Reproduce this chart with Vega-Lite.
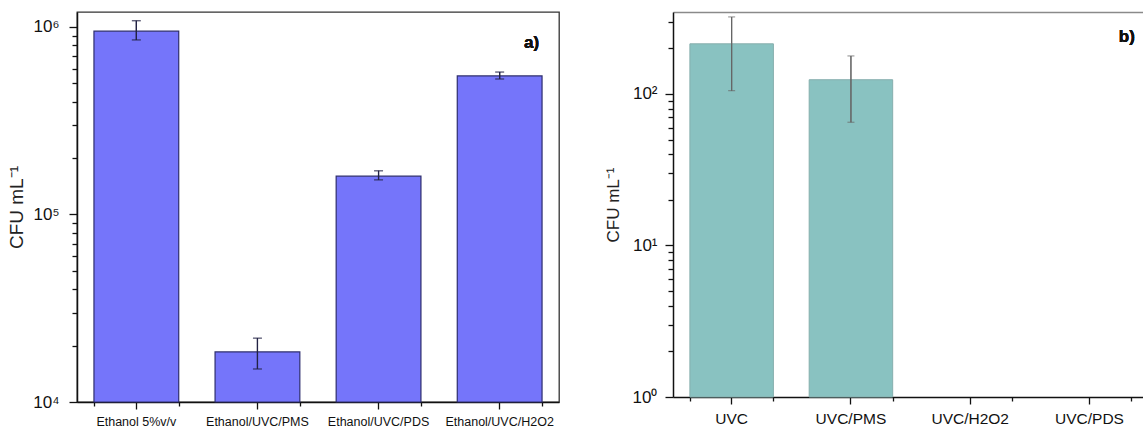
{
  "$schema": "https://vega.github.io/schema/vega-lite/v6.json",
  "padding": {"left": 7, "top": 11, "right": 0, "bottom": 0},
  "spacing": 44,
  "background": "white",
  "config": {
    "font": "Liberation Sans",
    "view": {"stroke": "#333333", "strokeWidth": 1.3},
    "axis": {"grid": false, "domainColor": "#111111", "domainWidth": 1.5, "tickColor": "#111111", "tickWidth": 1.3, "labelColor": "#111111", "titleColor": "#222222", "titleFontWeight": "normal", "labelFont": "Liberation Sans", "titleFont": "Liberation Sans"}
  },
  "hconcat": [
    {
      "width": 482,
      "height": 390,
      "data": {"values": [
        {"treatment": "Ethanol 5%v/v", "cfu": 950000, "lo": 853000, "hi": 1080000},
        {"treatment": "Ethanol/UVC/PMS", "cfu": 18500, "lo": 15000, "hi": 21900},
        {"treatment": "Ethanol/UVC/PDS", "cfu": 160000, "lo": 153000, "hi": 171000},
        {"treatment": "Ethanol/UVC/H2O2", "cfu": 548000, "lo": 528000, "hi": 575000}
      ]},
      "layer": [
        {
          "layer": [
            {
              "mark": {"type": "bar", "color": "#7575FA", "stroke": "#2E2E6E", "strokeWidth": 1.2},
              "encoding": {
                "x": {"field": "treatment", "type": "nominal", "sort": null,
                  "scale": {"domain": ["Ethanol 5%v/v", "Ethanol/UVC/PMS", "Ethanol/UVC/PDS", "Ethanol/UVC/H2O2"], "paddingInner": 0.3, "paddingOuter": 0.14, "align": 0.5},
                  "axis": {"orient": "bottom", "title": null, "labelAngle": 0, "labelFontSize": 12.5, "tickSize": 7, "labelPadding": 6, "labelOverlap": false, "labelLimit": 0}},
                "y": {"field": "cfu", "type": "quantitative",
                  "scale": {"type": "log", "domain": [10000, 1202000], "nice": false},
                  "axis": {"orient": "left", "title": "CFU mL⁻¹", "titleFontSize": 19, "titlePadding": 6,
                    "values": [10000, 20000, 30000, 40000, 50000, 60000, 70000, 80000, 90000, 100000, 200000, 300000, 400000, 500000, 600000, 700000, 800000, 900000, 1000000],
                    "labelExpr": "datum.value == 10000 ? '10⁴' : datum.value == 100000 ? '10⁵' : datum.value == 1000000 ? '10⁶' : ''",
                    "labelOverlap": false, "labelFontSize": 17, "labelPadding": 10,
                    "tickSize": {"condition": {"test": "datum.value == 10000 || datum.value == 100000 || datum.value == 1000000", "value": 8}, "value": 5}}},
                "y2": {"datum": 10000}
              }
            },
            {
              "mark": {"type": "rule", "color": "#222244", "strokeWidth": 1.2},
              "encoding": {
                "x": {"field": "treatment", "type": "nominal", "sort": null},
                "y": {"field": "lo", "type": "quantitative"},
                "y2": {"field": "hi"}
              }
            },
            {
              "mark": {"type": "tick", "color": "#222244", "thickness": 1.4, "size": 9},
              "encoding": {
                "x": {"field": "treatment", "type": "nominal", "sort": null},
                "y": {"field": "lo", "type": "quantitative"}
              }
            },
            {
              "mark": {"type": "tick", "color": "#222244", "thickness": 1.4, "size": 9},
              "encoding": {
                "x": {"field": "treatment", "type": "nominal", "sort": null},
                "y": {"field": "hi", "type": "quantitative"}
              }
            },
            {
              "mark": {"type": "text", "text": "a)", "fontSize": 17, "fontWeight": "bold", "align": "right", "baseline": "middle", "dx": 39.5, "color": "#111111"},
              "encoding": {
                "x": {"datum": "Ethanol/UVC/H2O2", "type": "nominal"},
                "y": {"datum": 820000, "type": "quantitative"}
              }
            }
          ]
        },
        {
          "mark": {"type": "rule", "color": "#222244", "strokeWidth": 1.2},
          "encoding": {
            "x": {"field": "treatment", "type": "nominal", "sort": null,
              "scale": {"domain": ["Ethanol 5%v/v", "Ethanol/UVC/PMS", "Ethanol/UVC/PDS", "Ethanol/UVC/H2O2"], "paddingInner": 0.3, "paddingOuter": 0.14, "align": 0.5},
              "axis": {"orient": "top", "offset": -390, "title": null, "labels": false, "domain": true, "domainOpacity": 0, "ticks": true, "tickBand": "extent", "tickSize": -4}},
            "y": {"field": "lo", "type": "quantitative",
              "scale": {"type": "log", "domain": [10000, 1202000], "nice": false}, "axis": null},
            "y2": {"field": "hi"}
          }
        }
      ],
      "resolve": {"scale": {"x": "independent", "y": "independent"}, "axis": {"x": "independent", "y": "independent"}}
    },
    {
      "width": 470,
      "height": 385,
      "view": {"stroke": null},
      "data": {"values": [
        {"treatment": "UVC", "cfu": 214, "lo": 105, "hi": 322},
        {"treatment": "UVC/PMS", "cfu": 124, "lo": 65, "hi": 178},
        {"treatment": "UVC/H2O2", "cfu": null, "lo": null, "hi": null},
        {"treatment": "UVC/PDS", "cfu": null, "lo": null, "hi": null}
      ]},
      "layer": [
        {
          "layer": [
            {
              "mark": {"type": "bar", "color": "#89C2C1", "stroke": "#86AEAD", "strokeWidth": 1},
              "encoding": {
                "x": {"field": "treatment", "type": "nominal", "sort": null,
                  "scale": {"domain": ["UVC", "UVC/PMS", "UVC/H2O2", "UVC/PDS"], "paddingInner": 0.3, "paddingOuter": 0.12, "align": 0.59},
                  "axis": {"orient": "bottom", "title": null, "labelAngle": 0, "labelFontSize": 15.5, "tickSize": 7, "labelPadding": 7, "labelOverlap": false, "labelLimit": 0}},
                "y": {"field": "cfu", "type": "quantitative",
                  "scale": {"type": "log", "domain": [1, 347], "nice": false},
                  "axis": {"orient": "left", "title": "CFU mL⁻¹", "titleFontSize": 17, "titlePadding": 10,
                    "values": [1, 2, 3, 4, 5, 6, 7, 8, 9, 10, 20, 30, 40, 50, 60, 70, 80, 90, 100, 200, 300],
                    "labelExpr": "datum.value == 1 ? '10⁰' : datum.value == 10 ? '10¹' : datum.value == 100 ? '10²' : ''",
                    "labelOverlap": false, "labelFontSize": 17, "labelPadding": 8,
                    "tickSize": {"condition": {"test": "datum.value == 1 || datum.value == 10 || datum.value == 100", "value": 8}, "value": 5}}},
                "y2": {"datum": 1}
              }
            },
            {
              "mark": {"type": "rule", "color": "#666666", "strokeWidth": 1.1},
              "encoding": {
                "x": {"field": "treatment", "type": "nominal", "sort": null},
                "y": {"field": "lo", "type": "quantitative"},
                "y2": {"field": "hi"}
              }
            },
            {
              "mark": {"type": "tick", "color": "#666666", "thickness": 1.1, "size": 7},
              "encoding": {
                "x": {"field": "treatment", "type": "nominal", "sort": null},
                "y": {"field": "lo", "type": "quantitative"}
              }
            },
            {
              "mark": {"type": "tick", "color": "#666666", "thickness": 1.1, "size": 7},
              "encoding": {
                "x": {"field": "treatment", "type": "nominal", "sort": null},
                "y": {"field": "hi", "type": "quantitative"}
              }
            }
          ]
        },
        {
          "mark": {"type": "rule", "color": "#666666", "strokeWidth": 1.1},
          "encoding": {
            "x": {"field": "treatment", "type": "nominal", "sort": null,
              "scale": {"domain": ["UVC", "UVC/PMS", "UVC/H2O2", "UVC/PDS"], "paddingInner": 0.3, "paddingOuter": 0.12, "align": 0.59},
              "axis": {"orient": "top", "offset": -385, "title": null, "labels": false, "domain": true, "domainOpacity": 0, "ticks": true, "tickBand": "extent", "tickSize": -4}},
            "y": {"field": "lo", "type": "quantitative",
              "scale": {"type": "log", "domain": [1, 347], "nice": false}, "axis": null},
            "y2": {"field": "hi"}
          }
        },
        {
          "mark": {"type": "text", "text": "b)", "fontSize": 17, "fontWeight": "bold", "align": "right", "baseline": "middle", "dx": 40, "color": "#111111"},
          "encoding": {
            "x": {"datum": "UVC/PDS", "type": "nominal",
              "scale": {"domain": ["UVC", "UVC/PMS", "UVC/H2O2", "UVC/PDS"], "paddingInner": 0.3, "paddingOuter": 0.12, "align": 0.59},
              "axis": {"orient": "top", "title": null, "labels": false, "ticks": false, "domain": true, "domainColor": "#8a8a8a", "domainWidth": 1.3}},
            "y": {"datum": 238, "type": "quantitative",
              "scale": {"type": "log", "domain": [1, 347], "nice": false}, "axis": null}
          }
        }
      ],
      "resolve": {"scale": {"x": "independent", "y": "independent"}, "axis": {"x": "independent", "y": "independent"}}
    }
  ]
}
